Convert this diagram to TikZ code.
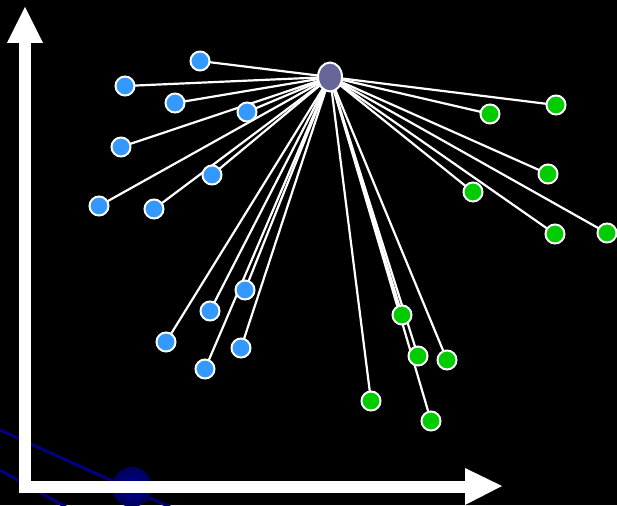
\documentclass[tikz,border=0pt]{standalone}
\usetikzlibrary{arrows.meta,shapes.geometric}
\definecolor{hubc}{RGB}{102,102,153}
\definecolor{bluec}{RGB}{51,153,255}
\definecolor{greenc}{RGB}{0,204,0}
\definecolor{navy1}{RGB}{0,0,128}
\pgfdeclarelayer{bottom}
\pgfdeclarelayer{lines}
\pgfsetlayers{bottom,lines,main}
\tikzset{
  bnode/.style={circle,draw=white,line width=2pt,fill=bluec,minimum size=19pt,inner sep=0pt},
  gnode/.style={circle,draw=white,line width=2pt,fill=greenc,minimum size=19pt,inner sep=0pt},
  hub/.style={ellipse,draw=white,line width=2pt,fill=hubc,minimum width=24pt,minimum height=29pt,inner sep=0pt},
  spoke/.style={white,line width=2.2pt},
  axis/.style={white,line width=12pt},
  axhead/.style={white},
  faint/.style={navy1,line width=3pt}
}
\begin{document}
\begin{tikzpicture}[x=1pt,y=-1pt]
\begin{pgfonlayer}{bottom}
\fill[black] (0,0) rectangle (617,505);
\end{pgfonlayer}
\useasboundingbox (0,0) rectangle (617,505);
\begin{pgfonlayer}{bottom}
\begin{scope}
\clip (0,0) rectangle (617,505);
\draw[faint] (0,430) -- (170,507);
\draw[faint] (0,470) -- (66,507);
\shade[inner color=blue!60!black, outer color=navy1!70!black] (132,487) circle (20);
\end{scope}
% axes
\draw[axis] (25,42) -- (25,493);
\draw[axis] (19,487) -- (467,487);
\fill[axhead] (7,43) -- (25,7) -- (43,43) -- cycle;
\fill[axhead] (465,468) -- (502,486) -- (465,505) -- cycle;
\end{pgfonlayer}
% hub
\node[hub] (h) at (330,77) {};
% blue nodes
\node[bnode] (b1) at (200,61) {};
\node[bnode] (b2) at (125,86) {};
\node[bnode] (b3) at (175,103) {};
\node[bnode] (b4) at (247,112) {};
\node[bnode] (b5) at (121,147) {};
\node[bnode] (b6) at (212,175) {};
\node[bnode] (b7) at (99,206) {};
\node[bnode] (b8) at (154,209) {};
\node[bnode] (b9) at (245,290) {};
\node[bnode] (b10) at (210,311) {};
\node[bnode] (b11) at (166,342) {};
\node[bnode] (b12) at (241,348) {};
\node[bnode] (b13) at (205,369) {};
% green nodes
\node[gnode] (g1) at (490,114) {};
\node[gnode] (g2) at (556,105) {};
\node[gnode] (g3) at (548,174) {};
\node[gnode] (g4) at (473,192) {};
\node[gnode] (g5) at (555,234) {};
\node[gnode] (g6) at (607,233) {};
\node[gnode] (g7) at (402,315) {};
\node[gnode] (g8) at (418,356) {};
\node[gnode] (g9) at (447,360) {};
\node[gnode] (g10) at (371,401) {};
\node[gnode] (g11) at (431,421) {};
% spokes
\begin{pgfonlayer}{lines}
\foreach \n in {b1,b2,b3,b4,b5,b6,b7,b8,b9,b10,b11,b12,b13,g1,g2,g3,g4,g5,g6,g7,g8,g9,g10,g11}
  \draw[spoke] (h.center) -- (\n.center);
\end{pgfonlayer}
\end{tikzpicture}
\end{document}
